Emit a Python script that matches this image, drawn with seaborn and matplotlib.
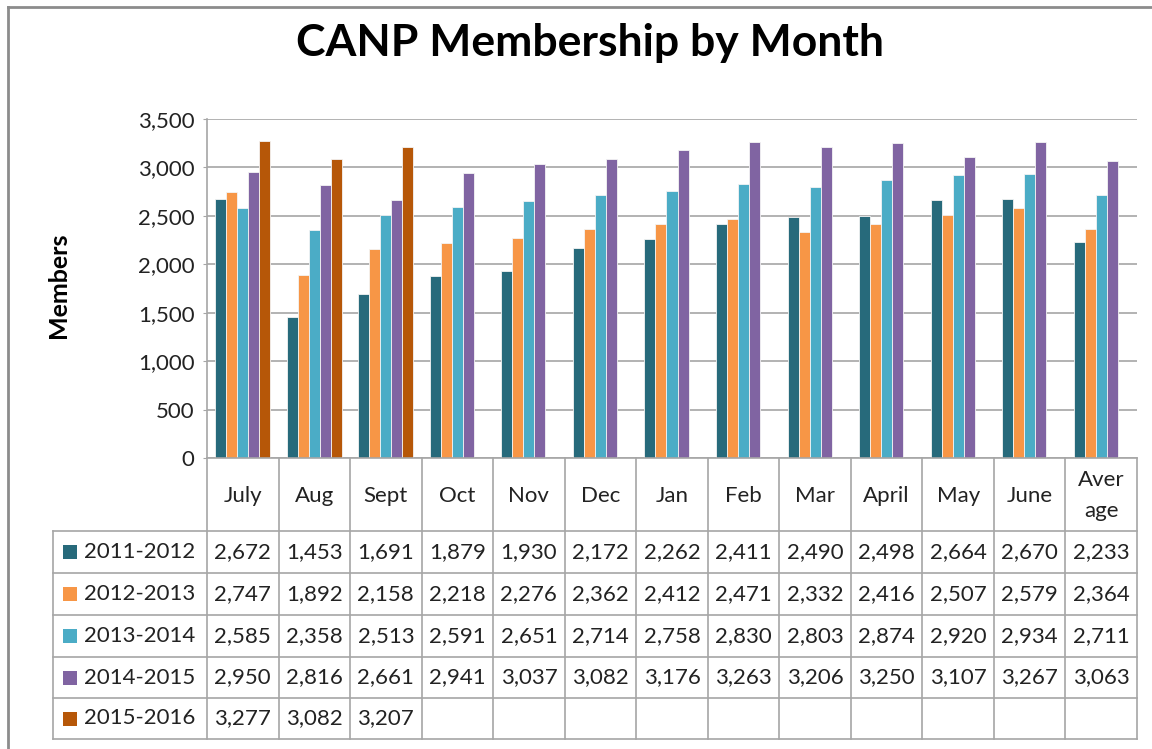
import matplotlib
matplotlib.use("Agg")
import matplotlib.pyplot as plt
import matplotlib.transforms as mtransforms
from matplotlib.patches import Rectangle
import seaborn as sns
import pandas as pd
import numpy as np

# data
months = ['July', 'Aug', 'Sept', 'Oct', 'Nov', 'Dec', 'Jan', 'Feb', 'Mar',
          'April', 'May', 'June', 'Average']
month_labels = ['July', 'Aug', 'Sept', 'Oct', 'Nov', 'Dec', 'Jan', 'Feb', 'Mar',
                'April', 'May', 'June', 'Aver\nage']
seasons = ['2011-2012', '2012-2013', '2013-2014', '2014-2015', '2015-2016']
s2011 = [2672, 1453, 1691, 1879, 1930, 2172, 2262, 2411, 2490, 2498, 2664, 2670, 2233]
s2012 = [2747, 1892, 2158, 2218, 2276, 2362, 2412, 2471, 2332, 2416, 2507, 2579, 2364]
s2013 = [2585, 2358, 2513, 2591, 2651, 2714, 2758, 2830, 2803, 2874, 2920, 2934, 2711]
s2014 = [2950, 2816, 2661, 2941, 3037, 3082, 3176, 3263, 3206, 3250, 3107, 3267, 3063]
s2015 = [3277, 3082, 3207] + [None] * 10
colors = ['#276A7B', '#F79646', '#4BACC6', '#8064A2', '#B65708']

series = [s2011, s2012, s2013, s2014, s2015]
rows = []
for season, vals in zip(seasons, series):
    for m, v in zip(months, vals):
        rows.append({'Month': m, 'Season': season,
                     'Members': np.nan if v is None else v})
df = pd.DataFrame(rows)

W, H = 1152, 749
fig = plt.figure(figsize=(W / 100, H / 100), dpi=100)
fig.patch.set_facecolor('white')
FONT = 'Lato'
plt.rcParams['font.family'] = [FONT, 'DejaVu Sans']
TXT = 16


def fx(px):
    return px / W


def fy(py):
    return 1 - py / H


left, right, top, bottom = 207, 1137, 119, 458
ax = fig.add_axes([fx(left), fy(bottom), fx(right) - fx(left), (bottom - top) / H])

sns.barplot(data=df, x='Month', y='Members', hue='Season', order=months,
            hue_order=seasons, palette=colors, width=0.77, ax=ax,
            saturation=1, edgecolor='#F4F4F4', linewidth=0.6, legend=False,
            errorbar=None, zorder=3)

ax.set_xlim(-0.5, len(months) - 0.5)
ax.set_ylim(0, 3500)
ax.set_yticks(range(0, 3501, 500))
ax.set_yticklabels([f'{v:,}' for v in range(0, 3501, 500)], fontsize=TXT,
                   color='#222222')
ax.yaxis.grid(True, color='#A6A6A6', linewidth=1.2, zorder=0)
ax.set_axisbelow(True)
ax.set_xticks([])
ax.set_xlabel('')
ax.set_ylabel('')
for side in ['top', 'right', 'bottom']:
    ax.spines[side].set_visible(False)
ax.spines['left'].set_color('#A6A6A6')
ax.spines['left'].set_linewidth(1.2)
ax.tick_params(axis='y', length=3, color='#A6A6A6', pad=6)

# title and axis label
fig.text(fx(590), fy(43), 'CANP Membership by Month', fontsize=32,
         fontweight='bold', ha='center', va='center')
fig.text(fx(59), fy(285), 'Members', fontsize=18, fontweight='bold',
         rotation=90, ha='center', va='center')

# data table
blend = mtransforms.blended_transform_factory(ax.transData, fig.transFigure)
line_kw = dict(color='#A6A6A6', linewidth=1.2, clip_on=False)
row_edges = [531, 573, 615, 657, 698, 739]

# vertical cell lines
for i in range(len(months) + 1):
    fig.add_artist(plt.Line2D([i - 0.5, i - 0.5], [fy(bottom), fy(row_edges[-1])],
                              transform=blend, **line_kw))
# bottom axis line / header top
fig.add_artist(plt.Line2D([-0.5, len(months) - 0.5], [fy(bottom), fy(bottom)],
                          transform=blend, **line_kw))
# row lines
for ry in row_edges:
    fig.add_artist(plt.Line2D([fx(53), fx(right)], [fy(ry), fy(ry)],
                              transform=fig.transFigure, **line_kw))
fig.add_artist(plt.Line2D([fx(53), fx(53)], [fy(row_edges[0]), fy(row_edges[-1])],
                          transform=fig.transFigure, **line_kw))

# header labels
for i, lab in enumerate(month_labels):
    fig.text(i, fy((bottom + row_edges[0]) / 2 + 1), lab, transform=blend,
             fontsize=TXT, ha='center', va='center', color='#222222',
             linespacing=1.65)

# rows
for r, (season, vals, c) in enumerate(zip(seasons, series, colors)):
    yc = (row_edges[r] + row_edges[r + 1]) / 2
    fig.add_artist(Rectangle((fx(63), fy(yc + 7)), 14 / W, 14 / H,
                             transform=fig.transFigure, facecolor=c,
                             edgecolor='none'))
    fig.text(fx(84), fy(yc), season, fontsize=TXT, ha='left', va='center',
             color='#222222')
    for i, v in enumerate(vals):
        if v is None:
            continue
        fig.text(i, fy(yc), f'{v:,}', transform=blend, fontsize=TXT,
                 ha='center', va='center', color='#222222')

# outer chart frame
frame_kw = dict(color='#8C8C8C', linewidth=2, transform=fig.transFigure)
fig.add_artist(plt.Line2D([fx(8), 1], [fy(7), fy(7)], **frame_kw))
fig.add_artist(plt.Line2D([fx(8), fx(8)], [fy(7), 0], **frame_kw))

fig.savefig('out.png', dpi=100, facecolor='white')
